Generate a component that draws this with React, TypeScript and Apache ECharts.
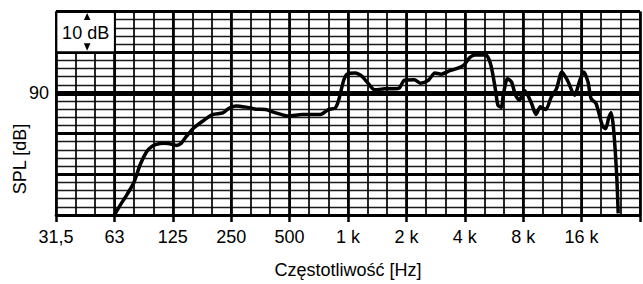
import React, { useEffect, useRef } from "react";
import * as echarts from "echarts";

// Frequency response
const FREQ_HZ = [
  63, 66.7, 73.5, 79.4, 85.6, 92.5, 98, 104, 114, 125, 131, 139, 148, 160, 180, 203, 228, 247, 267, 300,
  338, 379, 427, 498, 584, 657, 726, 800, 867, 902, 958, 996, 1098, 1188, 1282, 1386, 1560, 1751, 1858, 1970,
  2211, 2381, 2618, 2826, 3049, 3352, 3685, 3975, 4293, 4545, 4908, 5186, 5496, 5809, 5972, 6212, 6385, 6687,
  7021, 7368, 7699, 8177, 8524, 8905, 9393, 9882, 10543, 11246, 11970, 12770, 13627, 14837, 15797, 16578,
  17407, 18059, 19139, 20655, 21429, 22290, 22916, 23562, 24444, 24907,
];
const SPL_DB = [
  60.0, 62.0, 65.2, 68.0, 72.4, 75.6, 76.8, 77.4, 77.6, 77.4, 77.1, 77.6, 79.3, 81.2, 83.1, 84.7, 85.1, 86.3, 86.8, 86.5,
  86.0, 85.9, 85.1, 84.3, 84.7, 84.7, 84.7, 85.9, 86.3, 88.2, 93.1, 94.6, 94.9, 94.1, 92.3, 90.75, 91.0, 91.0, 91.25, 93.1,
  93.25, 92.4, 93.1, 94.9, 94.6, 95.4, 96.0, 96.8, 98.75, 99.3, 99.3, 99.3, 96.8, 90.6, 87.0, 86.5, 89.8, 93.5,
  92.65, 89.4, 88.2, 90.6, 89.4, 87.4, 84.7, 86.6, 85.9, 89.0, 91.0, 95.15, 93.1, 89.4, 93.1, 95.15,
  92.65, 88.6, 87.4, 81.9, 81.2, 84.0, 85.1, 81.2, 70.0, 60.4,
];
const OCTAVE_LABELS = ["31,5", "63", "125", "250", "500", "1 k", "2 k", "4 k", "8 k", "16 k"];
const BASE_FREQ = 31.5;
const THIRDS_MAX = 30;
const Y_MIN = 60;
const Y_MAX = 110;
const REF_LEVEL_DB = 90;
const SCALE_MARK = "10 dB";
const X_NAME = "Częstotliwość [Hz]";
const Y_NAME = "SPL [dB]";

const W = 643;
const H = 284;
const GRID_LEFT = 56;
const GRID_TOP = 11.5;
const GRID_HEIGHT = 207;
const GRID_WIDTH = 592.8;
const FONT = "'Liberation Sans', Arial, Helvetica, sans-serif";

export default function App() {
  const ref = useRef<HTMLDivElement>(null);
  useEffect(() => {
    if (!ref.current) return;
    const chart = echarts.init(ref.current, null, { renderer: "svg" });
    const data = FREQ_HZ.map((f, i) => [3 * Math.log2(f / BASE_FREQ), SPL_DB[i]]);
    const pxThird = GRID_WIDTH / THIRDS_MAX;
    const pxDb = GRID_HEIGHT / (Y_MAX - Y_MIN);
    const boxL = GRID_LEFT + 1.4;
    const boxR = GRID_LEFT + 3 * pxThird - 1.4;
    const boxT = GRID_TOP + 1.4;
    const boxB = GRID_TOP + 10 * pxDb - 1.6;
    const cx = (boxL + boxR) / 2;
    const ax = cx + 1.5;

    chart.setOption({
      animation: false,
      backgroundColor: "#fff",
      textStyle: { fontFamily: FONT },
      grid: { left: GRID_LEFT, top: GRID_TOP, width: GRID_WIDTH, height: GRID_HEIGHT, containLabel: false },
      xAxis: [
        {
          type: "value",
          position: "bottom",
          min: 0,
          max: THIRDS_MAX,
          interval: 3,
          name: X_NAME,
          nameLocation: "middle",
          nameGap: 46,
          nameTextStyle: { fontSize: 18, color: "#000", fontFamily: FONT },
          axisLine: { show: true, lineStyle: { color: "#000", width: 2.7 } },
          axisTick: { show: true, length: 7, lineStyle: { color: "#000", width: 2.5 } },
          axisLabel: {
            show: true,
            margin: 12.5,
            fontSize: 18,
            color: "#000",
            fontFamily: FONT,
            formatter: (v: number) => {
              const k = Math.round(v / 3);
              return Math.abs(v - k * 3) < 1e-6 && k < OCTAVE_LABELS.length ? OCTAVE_LABELS[k] : "";
            },
          },
          splitLine: { show: true, lineStyle: { color: "#000", width: 2.7 } },
        },
        {
          type: "value",
          position: "top",
          min: 0,
          max: THIRDS_MAX,
          interval: 1,
          axisLine: { show: false },
          axisTick: { show: false },
          axisLabel: { show: false },
          splitLine: { show: true, lineStyle: { color: "#000", width: 1.7 } },
        },
      ],
      yAxis: [
        {
          type: "value",
          position: "left",
          min: Y_MIN,
          max: Y_MAX,
          interval: 2,
          axisLine: { show: false },
          axisTick: { show: false },
          axisLabel: {
            show: true,
            margin: 7,
            fontSize: 18,
            color: "#000",
            fontFamily: FONT,
            formatter: (v: number) => (v === REF_LEVEL_DB ? String(v) : ""),
          },
          splitLine: { show: true, lineStyle: { color: "#1a1a1a", width: 1.3 } },
        },
        {
          type: "value",
          position: "right",
          min: Y_MIN,
          max: Y_MAX,
          interval: 10,
          axisLine: { show: false },
          axisTick: { show: false },
          axisLabel: { show: false },
          splitLine: { show: true, lineStyle: { color: "#000", width: 3 } },
        },
      ],
      series: [
        {
          type: "line",
          xAxisIndex: 0,
          yAxisIndex: 0,
          data,
          smooth: 0.25,
          showSymbol: false,
          symbol: "none",
          lineStyle: { color: "#000", width: 3.5 },
          z: 5,
          markLine: {
            silent: true,
            symbol: "none",
            label: { show: false },
            lineStyle: { color: "#000", width: 5, type: "solid" },
            data: [{ yAxis: REF_LEVEL_DB }],
            z: 4,
          },
        },
      ],
      graphic: [
        {
          type: "rect",
          shape: { x: boxL, y: boxT, width: boxR - boxL, height: boxB - boxT },
          style: { fill: "#fff" },
          z: 100,
        },
        {
          type: "text",
          x: cx,
          y: (boxT + boxB) / 2 + 0.5,
          style: {
            text: SCALE_MARK,
            font: `18px ${FONT}`,
            fill: "#000",
            align: "center",
            verticalAlign: "middle",
            textAlign: "center",
            textVerticalAlign: "middle",
          },
          z: 101,
        },
        {
          type: "polygon",
          shape: { points: [[ax, boxT], [ax - 3.3, boxT + 7], [ax + 3.3, boxT + 7]] },
          style: { fill: "#000" },
          z: 101,
        },
        {
          type: "polygon",
          shape: { points: [[ax - 3.3, boxB - 8], [ax + 3.3, boxB - 8], [ax, boxB - 0.5]] },
          style: { fill: "#000" },
          z: 101,
        },
        {
          type: "text",
          x: 20,
          y: 159,
          rotation: Math.PI / 2,
          style: {
            text: Y_NAME,
            font: `18px ${FONT}`,
            fill: "#000",
            align: "center",
            verticalAlign: "middle",
            textAlign: "center",
            textVerticalAlign: "middle",
          },
          z: 101,
        },
      ],
    });
    return () => chart.dispose();
  }, []);
  return (
    <div
      ref={ref}
      style={{ position: "fixed", left: 0, top: 0, width: W, height: H, background: "#fff" }}
    />
  );
}
